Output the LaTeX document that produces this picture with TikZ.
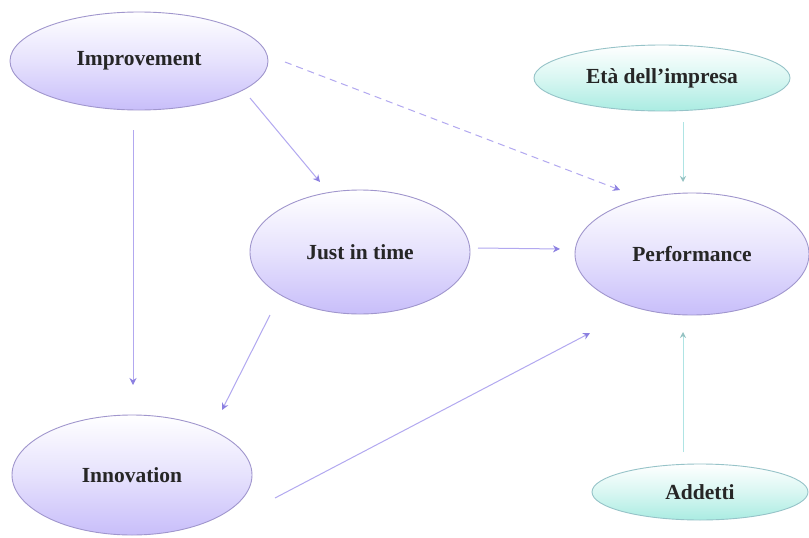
\documentclass[tikz,border=0pt]{standalone}
\usepackage{fontspec}
\setmainfont{Liberation Serif}
\usetikzlibrary{shapes.geometric,arrows.meta}
\definecolor{lavfill}{RGB}{200,190,250}
\definecolor{lavedge}{RGB}{160,150,205}
\definecolor{aquafill}{RGB}{170,236,226}
\definecolor{aquaedge}{RGB}{150,195,200}
\definecolor{linkcol}{RGB}{178,168,240}
\definecolor{tipcol}{RGB}{140,128,225}
\definecolor{aqualink}{RGB}{175,228,228}
\tikzset{
  factor/.style={ellipse, inner sep=0pt, draw=lavedge, line width=0.9pt,
    top color=white, bottom color=lavfill, middle color=lavfill!45,
    font=\fontsize{21.5}{23}\selectfont\bfseries, text=black!85},
  control/.style={ellipse, inner sep=0pt, draw=aquaedge, line width=0.9pt,
    top color=white, bottom color=aquafill, middle color=aquafill!45,
    font=\fontsize{21.5}{23}\selectfont\bfseries, text=black!85},
  conn/.style={draw=linkcol, line width=1pt,
    -{Stealth[length=7pt,width=7pt,color=tipcol]}},
  ctrlconn/.style={draw=aqualink, line width=1pt,
    -{Stealth[length=6pt,width=6pt,color=aqualink!85!black]}},
}
\begin{document}
\begin{tikzpicture}
\fill[white] (0pt,0pt) rectangle (809pt,-538pt);
\useasboundingbox (0pt,0pt) rectangle (809pt,-538pt);

% nodes
\node[factor, minimum width=258pt, minimum height=98pt] (imp) at (139pt,-61pt) {Improvement};
\node[factor, minimum width=220pt, minimum height=124pt] (jit) at (360pt,-252pt) {Just in time};
\node[factor, minimum width=234pt, minimum height=122pt] (perf) at (692pt,-254pt) {Performance};
\node[factor, minimum width=240pt, minimum height=120pt] (inn) at (132pt,-475pt) {Innovation};
\node[control, minimum width=256pt, minimum height=66pt] (eta) at (662pt,-78pt) {Età dell’impresa};
\node[control, minimum width=216pt, minimum height=56pt] (add) at (700pt,-492pt) {Addetti};

% connectors
\draw[conn] ([shift={(-6pt,-69pt)}]imp.center) -- ([shift={(1pt,90pt)}]inn.center);
\draw[conn] ([shift={(111pt,-37pt)}]imp.center) -- ([shift={(-40pt,70pt)}]jit.center);
\draw[conn, dashed, dash pattern=on 7pt off 5pt] ([shift={(146pt,-1pt)}]imp.center) -- ([shift={(-72pt,64pt)}]perf.center);
\draw[ctrlconn] ([shift={(21pt,-44pt)}]eta.center) -- ([shift={(-9pt,72pt)}]perf.center);
\draw[conn] ([shift={(118pt,4pt)}]jit.center) -- ([shift={(-132pt,5pt)}]perf.center);
\draw[conn] ([shift={(-90pt,-63pt)}]jit.center) -- ([shift={(90pt,65pt)}]inn.center);
\draw[conn] ([shift={(143pt,-23pt)}]inn.center) -- ([shift={(-102pt,-79pt)}]perf.center);
\draw[ctrlconn] ([shift={(-17pt,40pt)}]add.center) -- ([shift={(-9pt,-78pt)}]perf.center);
\end{tikzpicture}
\end{document}
